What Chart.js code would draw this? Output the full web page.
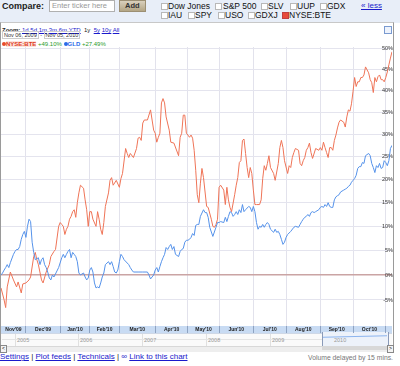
<!DOCTYPE html>
<html><head><meta charset="utf-8">
<script src="https://cdn.jsdelivr.net/npm/chart.js@4.4.1/dist/chart.umd.min.js"></script>
<style>
html,body{margin:0;padding:0;width:400px;height:366px;overflow:hidden;background:#fff;font-family:"Liberation Sans",Arial,sans-serif;}
.a{position:absolute;white-space:nowrap;line-height:1;}
.cb{position:absolute;width:5px;height:5px;border:1px solid #b8b8b8;background:#fff;}
.t{position:absolute;white-space:nowrap;line-height:1;font-size:8.5px;color:#111;}
.lk{color:#1a1acc;text-decoration:underline;}
#cv{position:absolute;left:0;top:0;z-index:3;}
</style></head>
<body>
<!-- header strip -->
<div class="a" style="left:0;top:0;width:400px;height:23px;background:#e8eef8;"></div>
<div class="a" style="left:2px;top:2px;font-size:9px;font-weight:bold;color:#222;">Compare:</div>
<div class="a" style="left:49px;top:0;width:64px;height:10px;border:1px solid #b0b0b0;background:#fff;"></div>
<div class="a" style="left:52px;top:2px;font-size:7.5px;color:#999;">Enter ticker here</div>
<div class="a" style="left:119px;top:0;width:25px;height:10px;border:1px solid #9c8f73;background:linear-gradient(#d9d0bd,#b3a585);"></div>
<div class="a" style="left:125px;top:2px;font-size:7.5px;font-weight:bold;color:#333;">Add</div>

<div class="cb" style="left:161px;top:3px;"></div><div class="t" style="left:168px;top:2px;">Dow Jones</div>
<div class="cb" style="left:215px;top:3px;"></div><div class="t" style="left:223px;top:2px;">S&amp;P 500</div>
<div class="cb" style="left:261px;top:3px;"></div><div class="t" style="left:268px;top:2px;">SLV</div>
<div class="cb" style="left:290px;top:3px;"></div><div class="t" style="left:297px;top:2px;">UUP</div>
<div class="cb" style="left:320px;top:3px;"></div><div class="t" style="left:327px;top:2px;">GDX</div>
<div class="t lk" style="left:361px;top:2px;font-size:8px;">« less</div>
<div class="cb" style="left:161px;top:12px;"></div><div class="t" style="left:168px;top:11px;">IAU</div>
<div class="cb" style="left:188px;top:12px;"></div><div class="t" style="left:195px;top:11px;">SPY</div>
<div class="cb" style="left:218px;top:12px;"></div><div class="t" style="left:225px;top:11px;">USO</div>
<div class="cb" style="left:248px;top:12px;"></div><div class="t" style="left:255px;top:11px;">GDXJ</div>
<div class="cb" style="left:282px;top:12px;background:#e84a3a;border-color:#c04040;"></div><div class="t" style="left:289px;top:11px;">NYSE:BTE</div>

<!-- chart frame -->
<div class="a" style="left:0;top:22px;width:392px;height:329px;border-top:1px solid #c8c8c8;border-left:1px solid #9a9a9a;border-right:1px solid #9a9a9a;"></div>
<div class="a" style="left:2px;top:27px;font-size:6px;color:#222;"><b>Zoom:</b> <span class="lk">1d</span> <span class="lk">5d</span> <span class="lk">1m</span> <span class="lk">3m</span> <span class="lk">6m</span> <span class="lk">YTD</span> &nbsp;1y &nbsp;<span class="lk">5y</span> <span class="lk">10y</span> <span class="lk">All</span></div>
<div class="a" style="left:2px;top:33px;font-size:5.5px;color:#333;"><span style="border:1px solid #ccc;padding:0 1px;">Nov 06, 2009</span> - <span style="border:1px solid #ccc;padding:0 1px;">Nov 05, 2010</span></div>
<div class="a" style="left:2px;top:41px;font-size:6px;">
<span style="display:inline-block;width:4px;height:4px;border-radius:2px;background:#e84a2a;"></span><span style="color:#e03a20;background:#fbe3dd;font-weight:bold;">NYSE:BTE</span> <span style="color:#2a9a2a;">+49.10%</span>
<span style="display:inline-block;width:4px;height:4px;border-radius:2px;background:#2a6ae8;"></span><span style="color:#2a6ae8;font-weight:bold;">GLD</span> <span style="color:#2a9a2a;">+27.49%</span></div>
<div class="a" style="left:384px;top:26px;width:6px;height:6px;border:1px solid #7a9ad0;background:#eef3fc;"></div>

<!-- x band -->
<div class="a" style="left:1px;top:326px;width:391px;height:7px;background:#c8dbf3;"></div>
<!-- navigator -->
<div class="a" style="left:1px;top:333px;width:391px;height:13px;background:#fafafa;border-top:1px solid #cfd8e6;"></div>
<div class="a" style="left:15px;top:334px;width:1px;height:12px;background:#e0e0e0;"></div>
<div class="a" style="left:78px;top:334px;width:1px;height:12px;background:#e0e0e0;"></div>
<div class="a" style="left:142px;top:334px;width:1px;height:12px;background:#e0e0e0;"></div>
<div class="a" style="left:206px;top:334px;width:1px;height:12px;background:#e0e0e0;"></div>
<div class="a" style="left:270px;top:334px;width:1px;height:12px;background:#e0e0e0;"></div>
<div class="a" style="left:2px;top:339px;width:320px;height:1px;background:#e4e4e4;"></div>
<div class="a" style="left:17px;top:338px;font-size:5.5px;color:#999;">2005</div>
<div class="a" style="left:80px;top:338px;font-size:5.5px;color:#999;">2006</div>
<div class="a" style="left:144px;top:338px;font-size:5.5px;color:#999;">2007</div>
<div class="a" style="left:208px;top:338px;font-size:5.5px;color:#999;">2008</div>
<div class="a" style="left:272px;top:338px;font-size:5.5px;color:#999;">2009</div>
<div class="a" style="left:322px;top:332px;width:65px;height:18px;border:1px solid #8a9ab8;border-top:none;background:#edf2fa;"></div>
<div class="a" style="left:323px;top:336px;width:64px;height:1px;background:#8cb4ee;transform:rotate(-1.5deg);"></div>
<div class="a" style="left:334px;top:338px;font-size:5.5px;color:#999;">2010</div>
<!-- scrollbar -->
<div class="a" style="left:1px;top:346px;width:391px;height:5px;background:#eeeeee;border-top:1px solid #d8d8d8;"></div>
<div class="a" style="left:0;top:345px;width:5px;height:6px;border:1px solid #888;background:#f4f4f4;font-size:5px;text-align:center;">&lt;</div>
<div class="a" style="left:387px;top:345px;width:5px;height:6px;border:1px solid #888;background:#f4f4f4;font-size:5px;text-align:center;">&gt;</div>
<div class="a" style="left:322px;top:346px;width:65px;height:4px;background:#d8d8d8;"></div>

<!-- footer -->
<div class="a" style="left:0;top:353px;font-size:8px;color:#222;"><span class="lk">Settings</span> | <span class="lk">Plot feeds</span> | <span class="lk">Technicals</span> | <span style="color:#1a1acc;">&#x221E;</span> <span class="lk">Link to this chart</span></div>
<div class="a" style="left:308px;top:355px;font-size:6.8px;color:#777;">Volume delayed by 15 mins.</div>

<canvas id="cv" width="400" height="366"></canvas>
<script>
// trading-day index (0 = Nov 06 2009) and % change
const bteDays = [0,2,3,4,6,8,10,11,13,14,16,18,19,21,22,23,24,26,27,29,31,32,34,35,37,38,39,40,41,42,43,44,45,46,47,48,49,50,51,53,54,55,56,57,58,59,61,62,63,64,65,66,67,69,70,71,72,74,76,77,78,80,81,82,83,85,87,88,89,90,91,92,94,96,98,99,100,101,102,103,104,105,106,108,109,111,114,115,116,117,118,119,120,121,122,123,124,125,126,127,128,129,130,132,133,135,136,137,138,139,140,141,143,144,145,146,147,148,150,151,152,153,154,155,156,157,158,159,160,161,162,163,164,166,167,168,169,170,171,172,173,175,176,178,179,180,181,182,184,185,186,187,188,189,191,192,193,194,195,196,197,198,199,200,202,204,205,206,207,208,209,210,211,212,213,214,215,216,217,218,220,221,222,223,224,225,226,227,228,229,230,231,232,233,234,236,237,238,239,240,241,242,243,244,245,246,247,248,249,250,251];
const bteVals = [-2.6,-5.0,-6.5,-2.4,0.6,-1.0,-2.4,-1.4,-3.6,-1.8,-1.6,-1.0,-0.4,3.75,4.6,3.1,2.1,-1.0,-1.6,0.6,2.1,3.75,4.8,5.2,10.0,10.8,10.4,10.0,8.3,9.4,10.0,11.5,12.1,13.1,13.5,11.9,15.0,17.1,18.75,18.1,15.6,13.5,10.0,13.1,13.1,11.5,10.0,13.1,11.5,9.4,8.3,10.8,14.2,17.1,19.8,20.4,18.75,19.8,18.3,20.2,21.3,26.8,25.7,24.8,25.7,24.8,26.8,29.1,29.3,28.6,32.5,33.2,33.2,35.5,30.9,30.2,28.2,29.3,30.2,37.1,38.1,37.1,33.9,30.9,28.2,28.0,25.2,29.3,30.2,34.3,34.3,30.2,29.8,29.3,29.8,29.1,26.4,22.0,16.7,15.0,19.2,22.4,20.4,14.2,14.0,11.5,10.0,9.8,10.4,11.5,18.3,18.75,17.7,14.6,18.3,15.6,14.0,13.1,16.7,18.75,20.4,23.7,24.1,28.6,28.9,25.7,22.6,20.4,22.6,21.3,17.7,14.6,14.6,14.6,15.6,20.2,23.0,22.0,23.5,25.2,22.6,21.3,19.8,23.5,27.0,28.6,27.0,24.1,21.3,23.0,22.6,24.8,25.9,26.8,26.4,23.5,23.0,24.1,24.8,26.4,27.0,28.0,25.9,24.6,26.8,26.4,27.0,26.4,28.2,27.0,25.9,24.8,27.0,27.0,26.4,28.6,29.8,31.4,32.7,33.2,32.7,31.6,33.9,35.5,35.2,36.9,39.8,43.0,40.9,42.0,42.0,43.0,43.0,43.6,45.5,44.1,42.5,41.8,39.5,43.0,42.0,43.2,43.6,42.5,42.5,42.0,43.0,44.3,46.0,47.6,49.1];
const gldDays = [0,1,2,3,4,5,6,8,9,10,11,12,13,14,15,16,17,18,19,20,21,22,24,25,26,27,28,29,30,31,32,33,34,37,39,40,41,42,43,44,45,46,47,48,49,50,51,53,54,55,56,57,58,59,60,61,62,63,64,65,66,67,69,70,71,72,73,74,75,76,77,78,79,82,83,84,85,88,91,94,95,96,98,99,100,101,102,103,104,105,106,107,108,109,110,111,112,114,115,116,117,118,119,120,121,122,123,124,125,126,127,128,130,131,132,133,134,136,138,139,140,141,143,144,145,146,147,148,149,150,151,152,153,154,155,156,157,159,160,161,162,163,164,165,166,167,168,169,170,171,172,173,175,176,177,178,179,180,181,182,183,184,186,188,189,191,192,193,194,195,196,197,198,199,200,201,202,204,205,206,207,208,209,210,211,212,213,214,215,216,217,218,220,221,222,223,224,225,226,227,228,229,230,231,232,233,234,236,237,238,239,240,241,242,243,244,245,246,247,248,249,250,251];
const gldVals = [0,0.4,1.0,1.5,2.1,1.5,2.5,4.2,4.8,5.2,5.2,5.8,7.3,8.3,8.95,7.7,10.0,11.5,11.0,6.7,4.6,3.1,3.5,2.1,3.1,3.5,2.1,1.5,0.6,-0.6,-1.0,0,-0.4,1.5,3.5,4.2,3.5,4.2,4.8,5.2,3.5,4.6,4.2,3.75,2.7,0.4,0,0.4,-0.4,-1.0,-0.6,1.0,1.5,0.6,-1.6,-2.6,-2.4,-2.6,-1.6,-0.4,0.4,2.1,2.7,2.1,2.7,1.7,0.6,0.4,1.0,2.7,4.2,3.75,3.1,2.1,1.5,1.0,0.6,0.6,0.6,0.6,0,-0.8,0,1.0,1.5,0.6,1.7,2.7,3.5,4.2,5.6,5.2,5.8,6.25,5.2,5.8,4.2,3.75,4.8,5.2,5.4,6.7,7.1,7.1,7.3,7.7,8.5,8.1,10.2,10.4,10.4,12.1,13.5,12.9,12.9,11.9,9.8,7.9,9.8,10.8,10.8,11.0,10.8,11.9,11.0,12.1,13.1,12.9,12.1,12.5,13.1,12.5,13.5,12.9,14.6,13.1,13.5,14.2,14.0,13.1,14.2,13.1,10.8,9.4,10.0,9.8,10.4,9.8,10.4,10.8,10.4,9.4,8.75,9.4,8.75,8.95,8.3,7.3,6.25,6.7,7.7,8.3,8.95,9.8,10.0,9.8,10.4,11.0,11.5,11.9,12.1,12.5,12.1,12.9,13.1,12.9,13.1,13.5,14.0,14.2,14.0,14.6,14.2,15.0,14.2,14.0,14.0,15.6,16.25,16.5,16.7,17.3,17.7,17.9,18.1,18.5,18.75,19.4,19.8,20.2,20.9,22.4,22.8,22.8,23.7,23.5,25.2,25.7,25.2,23.5,22.6,21.5,23.0,22.6,23.5,22.4,22.6,24.1,23.7,23.0,24.1,26.8,27.5];
const monthLabels = ["Nov'09","Dec'09","Jan'10","Feb'10","Mar'10","Apr'10","May'10","Jun'10","Jul'10","Aug'10","Sep'10","Oct'10"];
const monthStarts = [0,16,38,57,76,99,120,140,162,183,205,226,247];
const yTickPcts = [-5,0,5,10,15,20,25,30,35,40,45,50];
const lastDay = 251;
const yRangePct = [-10.1, 50.24];

// compressed percent scale (as drawn by the original chart)
const K = 0.00376;
const tf = p => Math.log(1 + K * p) / K;

const monthMids = monthLabels.map((_, i) => (monthStarts[i] + (monthStarts[i + 1] !== undefined ? monthStarts[i + 1] : lastDay + 1)) / 2);
const pts = (days, vals) => days.map((d, i) => ({ x: d, y: tf(vals[i]) }));

new Chart(document.getElementById('cv'), {
  type: 'line',
  data: {
    datasets: [
      { label: 'GLD', data: pts(gldDays, gldVals), borderColor: '#5592ea', borderWidth: 1, pointRadius: 0, tension: 0 },
      { label: 'NYSE:BTE', data: pts(bteDays, bteVals), borderColor: '#ef7457', borderWidth: 1, pointRadius: 0, tension: 0 }
    ]
  },
  options: {
    responsive: false, animation: false, devicePixelRatio: 1,
    layout: { padding: { left: 1, right: 8, top: 47, bottom: 33 } },
    plugins: { legend: { display: false }, tooltip: { enabled: false } },
    scales: {
      xg: {
        type: 'linear', position: 'bottom', min: 0, max: lastDay, weight: 0,
        afterBuildTicks: s => { s.ticks = monthStarts.slice(1).map(v => ({ value: v })); },
        afterFit: s => { s.height = 0; },
        ticks: { display: false },
        grid: { color: '#e2e2ec', lineWidth: 1, drawTicks: true, tickLength: 7, tickColor: '#8ea3c2' },
        border: { display: false }
      },
      x: {
        type: 'linear', position: 'bottom', min: 0, max: lastDay, weight: 1,
        afterBuildTicks: s => { s.ticks = monthMids.map(v => ({ value: v })); },
        afterFit: s => { s.height = 7; },
        ticks: { autoSkip: false, maxRotation: 0, padding: 1, color: '#222', font: { family: 'Liberation Sans', size: 5, weight: 'bold' },
          callback: (v, i) => monthLabels[i] },
        grid: { display: false, drawTicks: false },
        border: { display: false }
      },
      y: {
        type: 'linear', position: 'right', min: tf(yRangePct[0]), max: tf(yRangePct[1]),
        afterBuildTicks: s => { s.ticks = yTickPcts.map(p => ({ value: tf(p) })); },
        afterFit: s => { s.width = 0; },
        ticks: { mirror: true, padding: 1, color: '#333', font: { family: 'Liberation Sans', size: 5.5 },
          callback: (v, i) => yTickPcts[i] + '%' },
        grid: { drawTicks: false,
          color: c => (c.tick && Math.abs(c.tick.value) < 1e-6) ? '#caa4a4' : '#e4e4ee',
          lineWidth: c => (c.tick && Math.abs(c.tick.value) < 1e-6) ? 1.5 : 1 },
        border: { display: false }
      }
    }
  }
});
</script>
</body></html>
